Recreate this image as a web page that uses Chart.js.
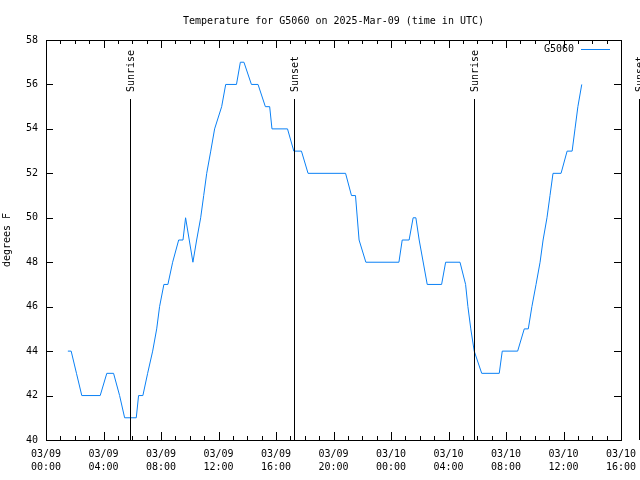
<!DOCTYPE html>
<html>
<head>
<meta charset="utf-8">
<script src="https://cdn.jsdelivr.net/npm/chart.js@4/dist/chart.umd.min.js"></script>
<style>
  html, body { margin: 0; padding: 0; background: #fff; }
  #wrap { width: 640px; height: 480px; }
</style>
</head>
<body>
<div id="wrap"><canvas id="chart" width="640" height="480"></canvas></div>
<script>
// hours since 03/09 00:00 UTC
var hours = [1.52,1.75,2.12,2.49,3.77,4.23,4.70,5.12,5.47,6.28,6.44,6.74,7.07,7.42,7.70,7.90,8.20,8.48,8.81,9.23,
             9.53,9.71,10.22,10.48,10.76,10.97,11.18,11.46,11.73,12.22,12.50,13.25,13.52,13.77,14.29,14.75,15.26,15.56,15.72,16.80,
             17.24,17.77,18.23,20.84,21.25,21.53,21.78,22.25,24.55,24.78,25.26,25.54,25.73,25.96,26.52,27.52,27.80,28.80,29.19,29.35,
             29.55,29.79,30.31,31.53,31.74,32.81,33.27,33.55,33.80,34.09,34.37,34.58,34.85,35.06,35.27,35.83,36.25,36.60,36.80,37.00,37.27];
var temps = [44,44,43,42,42,43,43,42,41,41,42,42,43,44,45,46,47,47,48,49,
             49,50,48,49,50,51,52,53,54,55,56,56,57,57,56,56,55,55,54,54,
             53,53,52,52,51,51,49,48,48,49,49,50,50,49,47,47,48,48,47,46,
             45,44,43,43,44,44,45,45,46,47,48,49,50,51,52,52,53,53,54,55,56];

var sunEvents = ['Sunrise', 'Sunset', 'Sunrise', 'Sunset'];
var sunHours = [5.84, 17.24, 29.79, 41.26];

var xTickDays = ['03/09', '03/10'];
var yTicks = [40, 42, 44, 46, 48, 50, 52, 54, 56, 58];

var chartTitle = 'Temperature for G5060 on 2025-Mar-09 (time in UTC)';
var yTitle = 'degrees F';
var seriesName = 'G5060';
var lineColor = '#0a80f5';
var fontFam = '"DejaVu Sans Mono", monospace';

var points = hours.map(function (h, i) { return { x: h, y: temps[i] }; });

function pad(n) { return (n < 10 ? '0' : '') + n; }

var gnuplotDeco = {
    id: 'gnuplotDeco',
    afterDraw: function (chart) {
        var ctx = chart.ctx, a = chart.chartArea;
        var xs = chart.scales.x, ys = chart.scales.y;
        ctx.save();
        ctx.strokeStyle = '#000';
        ctx.lineWidth = 1;
        // frame
        ctx.strokeRect(Math.round(a.left) + 0.5, Math.round(a.top) + 0.5,
            Math.round(a.right - a.left), Math.round(a.bottom - a.top));
        ctx.beginPath();
        // x ticks, inward, bottom and top
        for (var h = 0; h <= 40; h++) {
            var px = Math.round(xs.getPixelForValue(h)) + 0.5;
            var len = (h % 4 === 0) ? 8 : 4;
            ctx.moveTo(px, a.bottom); ctx.lineTo(px, a.bottom - len);
            ctx.moveTo(px, a.top); ctx.lineTo(px, a.top + len);
        }
        // y ticks, inward, left and right
        yTicks.forEach(function (v) {
            var py = Math.round(ys.getPixelForValue(v)) + 0.5;
            ctx.moveTo(a.left, py); ctx.lineTo(a.left + 7, py);
            ctx.moveTo(a.right, py); ctx.lineTo(a.right - 7, py);
        });
        ctx.stroke();

        // sunrise / sunset lines
        ctx.font = '10px ' + fontFam;
        ctx.fillStyle = '#000';
        sunHours.forEach(function (h, i) {
            var px = Math.round(xs.getPixelForValue(h)) + 0.5;
            ctx.beginPath();
            ctx.moveTo(px, 99); ctx.lineTo(px, a.bottom);
            ctx.stroke();
            ctx.save();
            ctx.translate(px + 1, 92);
            ctx.rotate(-Math.PI / 2);
            ctx.textAlign = 'left';
            ctx.textBaseline = 'middle';
            ctx.fillText(sunEvents[i], 0, 0);
            ctx.restore();
        });

        // title
        ctx.textAlign = 'center';
        ctx.textBaseline = 'middle';
        ctx.fillText(chartTitle, (a.left + a.right) / 2, 21);

        // y title
        ctx.save();
        ctx.translate(7, (a.top + a.bottom) / 2);
        ctx.rotate(-Math.PI / 2);
        ctx.fillText(yTitle, 0, 0);
        ctx.restore();

        // legend
        ctx.textAlign = 'right';
        ctx.fillText(seriesName, 574, 49);
        ctx.strokeStyle = lineColor;
        ctx.beginPath();
        ctx.moveTo(581, 49.5); ctx.lineTo(610, 49.5);
        ctx.stroke();
        ctx.restore();
    }
};

new Chart(document.getElementById('chart'), {
    type: 'line',
    data: {
        datasets: [{
            label: seriesName,
            data: points,
            borderColor: lineColor,
            borderWidth: 1,
            pointRadius: 0,
            tension: 0,
            fill: false
        }]
    },
    options: {
        responsive: false,
        animation: false,
        devicePixelRatio: 1,
        layout: { padding: { left: 0, right: 19, top: 40, bottom: 0 } },
        plugins: {
            legend: { display: false },
            title: { display: false },
            tooltip: { enabled: false }
        },
        scales: {
            x: {
                type: 'linear',
                min: 0,
                max: 40,
                grid: { display: false, drawTicks: false },
                border: { display: false },
                afterFit: function (s) {
                    s.height = 40;
                    s.paddingLeft = 0;
                    s.paddingRight = 0;
                },
                afterBuildTicks: function (s) {
                    var t = [];
                    for (var h = 0; h <= 40; h += 4) t.push({ value: h });
                    s.ticks = t;
                },
                ticks: {
                    autoSkip: false,
                    maxRotation: 0,
                    padding: 8,
                    color: '#000',
                    font: { family: fontFam, size: 10, lineHeight: 1.3 },
                    callback: function (v) {
                        var d = Math.floor(v / 24);
                        return [xTickDays[d], pad(v % 24) + ':00'];
                    }
                }
            },
            y: {
                min: 40,
                max: 58,
                grid: { display: false, drawTicks: false },
                border: { display: false },
                afterFit: function (s) {
                    s.width = 46;
                    s.paddingTop = 0;
                    s.paddingBottom = 0;
                },
                afterBuildTicks: function (s) {
                    s.ticks = yTicks.map(function (v) { return { value: v }; });
                },
                ticks: {
                    padding: 8,
                    color: '#000',
                    font: { family: fontFam, size: 10 }
                }
            }
        }
    },
    plugins: [gnuplotDeco]
});
</script>
</body>
</html>
